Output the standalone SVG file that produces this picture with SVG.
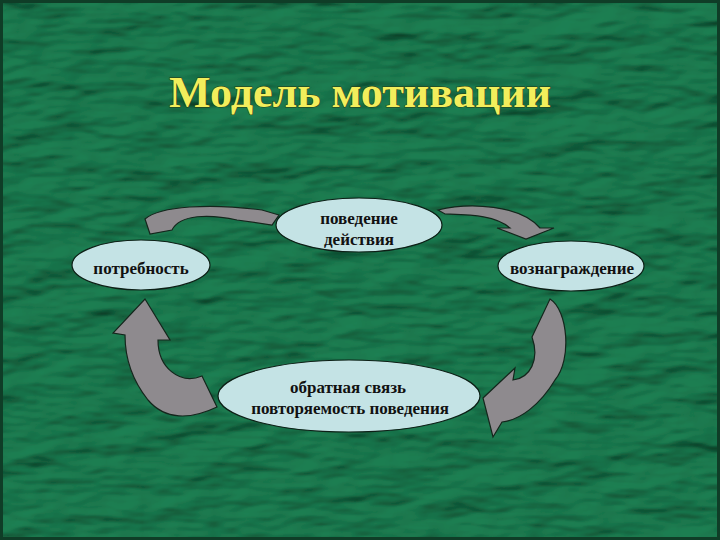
<svg xmlns="http://www.w3.org/2000/svg" width="720" height="540" viewBox="0 0 720 540" font-family="'Liberation Serif', 'Times New Roman', serif">
<defs>
<filter id="tex" x="0" y="0" width="720" height="540" filterUnits="userSpaceOnUse">
<feTurbulence type="fractalNoise" baseFrequency="0.014 0.04" numOctaves="3" seed="7" result="n"/>
<feDiffuseLighting in="n" lighting-color="#1f8053" surfaceScale="7" diffuseConstant="1"><feDistantLight azimuth="235" elevation="55"/></feDiffuseLighting>
</filter>
<style>
.node ellipse{fill:#c4e3e5;stroke:#0d1f16;stroke-width:1.2}
.node text{font-weight:bold;font-size:17px;fill:#111;text-anchor:middle}
.arrow{fill:#8e8a8e;stroke:#14261c;stroke-width:1.2;stroke-linejoin:miter}
.title{font-weight:bold;font-size:44px;fill:#f2ee5c;text-anchor:middle;stroke:#2a3a10;stroke-width:1;paint-order:stroke}
</style>
</defs>
<rect width="720" height="540" fill="#1c6b46"/>
<rect width="720" height="540" filter="url(#tex)"/>
<rect x="1.5" y="1.5" width="717" height="537" fill="none" stroke="#0f3d27" stroke-width="3"/>
<text class="title" x="360" y="107">Модель мотивации</text>
<g id="connectors">
<path class="arrow" d="M 145 219 C 160 206, 210 203, 262 210 L 279 215 L 272 225 L 237 220 C 210 214, 180 214, 172 230 L 150 234 Z"/>
<path class="arrow" d="M 438 210 C 470 202, 520 205, 540 228 L 554 228 L 526 239 L 497 228 L 510 228 C 495 215, 470 215, 445 214 Z"/>
<path class="arrow" d="M 550 299 C 568 310, 572 360, 555 380 C 540 405, 520 420, 502 422 L 493 437 L 483 398 L 515 368 L 513 380 C 530 378, 540 360, 532 337 Z"/>
<path class="arrow" d="M 145 299 L 170 340 L 158 340 C 158 368, 180 385, 202 376 L 217 407 C 190 420, 165 420, 148 400 C 132 380, 125 360, 125 335 L 113 333 Z"/>
</g>
<g id="need" class="node">
<ellipse cx="141" cy="265" rx="69" ry="25"/>
<text x="141" y="274">потребность</text>
</g>
<g id="behavior" class="node">
<ellipse cx="359" cy="225" rx="83" ry="27"/>
<text x="359" y="224">поведение</text>
<text x="359" y="245">действия</text>
</g>
<g id="reward" class="node">
<ellipse cx="571" cy="266" rx="73" ry="25"/>
<text x="572" y="274">вознаграждение</text>
</g>
<g id="feedback" class="node">
<ellipse cx="349" cy="396" rx="131" ry="36"/>
<text x="348" y="393">обратная связь</text>
<text x="350" y="414">повторяемость поведения</text>
</g>
</svg>
